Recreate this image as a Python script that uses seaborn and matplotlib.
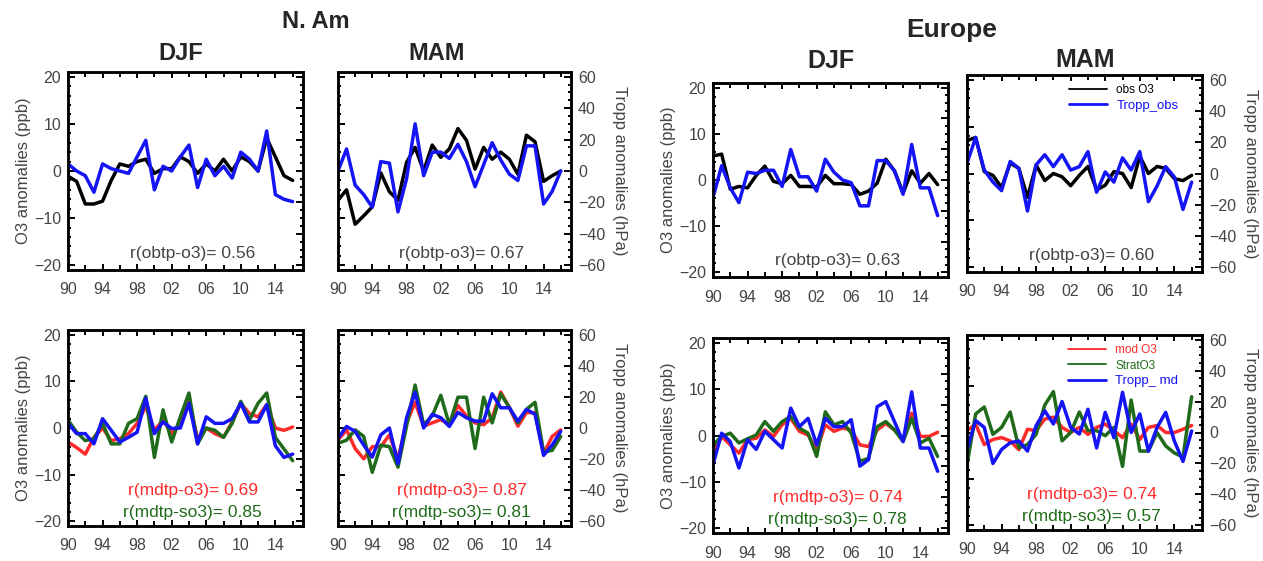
import numpy as np
import pandas as pd
import matplotlib
matplotlib.use("Agg")
import matplotlib.pyplot as plt
from matplotlib.ticker import MultipleLocator
import seaborn as sns

# Data, years 1990-2016
years = list(range(1990, 2017))
xtick_years = [1990, 1994, 1998, 2002, 2006, 2010, 2014]
xtick_labels = ['90', '94', '98', '02', '06', '10', '14']

# observed O3 (ppb) and observed tropopause pressure (hPa)
nam_djf_obs_o3 = [-1.1, -2.2, -7, -7, -6.4, -2, 1.5, 1, 2, 2.5, -0.5, 0.5, 0.5, 3, 2, -0.5, 1.5, 0, 2.5, 0, 3, 2, 0, 7, 3, -1, -2]
nam_djf_tropp_obs = [4.5, 0, -3, -13.5, 4.5, 1.5, 0, -1.5, 9, 19.5, -12, 3, 0, 9, 16.5, -10.5, 7.5, -3, 3, -4.5, 12, 7.5, 0, 25.5, -15, -18, -19.5]
nam_mam_obs_o3 = [-6.2, -4, -11.3, -9.5, -7.6, -0.4, -4.4, -6.2, 1.8, 5, 0, 5.5, 2.9, 4.7, 9, 6.5, 0.4, 5, 2.5, 4, 2.5, -0.7, 7.6, 6.2, -2.2, -1, 0]
nam_mam_tropp_obs = [0, 14, -9, -15, -23, 6, 5, -26, -5, 30, -3, 12, 12, 8, 17, 6, -10, 4, 18, 7, -2, -6, 16, 16, -21, -13, 0]
eu_djf_obs_o3 = [5.2, 5.6, -2, -1.4, -1.7, 1, 3, -0.3, -0.8, 1, -1.4, -1.4, -1.5, 1, -0.8, -0.8, -1, -3.1, -2.4, -0.7, 4.5, 2, -2.8, 2, -0.7, 1.4, -1]
eu_djf_tropp_obs = [-11.4, 9.3, -5.1, -14.7, 5.1, 4.2, 6.3, 6.3, -4.2, 19.8, 2.1, 2.1, -7.2, 13.5, 5.1, 0, -1.8, -16.8, -16.8, 12.6, 12.6, 6, -9.3, 23.1, -5.1, -5.1, -23.1]
eu_mam_obs_o3 = [7, 7.7, 0.4, -0.4, -3, 2.2, 1.1, -5.1, 1.8, -1.5, 0, -0.7, -2.6, -0.4, 1.5, -3.5, -2.5, 0.4, 0, -3, 3.7, 0, 1.5, 1.1, -1.1, -1.5, -0.4]
eu_mam_tropp_obs = [6.6, 23, 2.2, -5.5, -11, 7.7, 3.3, -24, 5.5, 12, 4.4, 12, 2.2, 4.4, 14, -12, 1, -5.5, 10, 2.2, 14, -18, -8, 4.4, -2.2, -23, -5.5]

# modelled O3, strat O3 (ppb) and modelled tropopause pressure (hPa)
nam_djf_mod_o3 = [-3, -4.2, -5.6, -2, 0, -2.7, -2.3, -1.2, 1, 4.6, -0.5, 1.7, -1.2, 1, 5.7, -2.3, 0, -1.2, -2, 1.3, 5.3, 3.1, 2.4, 5, 0, -0.5, 0.2]
nam_djf_strat_o3 = [1.7, -0.9, -2.7, -2.3, 1, -3.4, -3.4, 1, 2, 6.8, -6.3, 3.9, -3, 2.4, 7.5, -3.4, 0, -0.5, -2, 1, 5.7, 1.7, 5.3, 7.5, -2, -4.5, -7]
nam_djf_tropp_md = [3, -3.6, -3.6, -10.2, 6, -1.5, -9, -6, -2.7, 19.2, -3.6, 3.9, -0.3, 0, 15.9, -10.2, 7.2, 3, 3, 6, 15.9, 3.9, 3.9, 15, -11.4, -18.9, -16.8]
nam_mam_mod_o3 = [-2.6, -0.4, -4.4, -6.6, -4, -4, -1.5, -6.6, 1.1, 5.5, 0.4, 1.1, 1.8, 0.7, 4.8, 2.6, 1.1, 0.7, 2.2, 7.7, 4.4, 0.4, 3.3, 3.3, -5.5, -1.8, -0.4]
nam_mam_strat_o3 = [-3.3, -2.6, -0.4, -1.8, -9.5, -3.7, -4, -8.4, 0.4, 9.2, 0.7, 2.6, 7, 0.7, 6.6, 6.6, -4.4, 6.6, 1.1, 7.3, 4.4, 1.1, 4, 5.5, -5.1, -4.8, -1.8]
nam_mam_tropp_md = [-6.6, 1, -2.2, -11, -18.7, -4.4, 0, -23, 6.6, 23, 0, 8.8, 6.6, 1, 10, 6.6, 4.4, 4.4, 22, 13, 13, 4.4, 12, 8.8, -17.6, -11, -2.2]
eu_djf_mod_o3 = [-4.1, -0.2, -2, -3.8, -0.9, -0.6, 1.2, -0.2, 2.3, 3.7, 0.9, 0.1, -3.1, 2.3, 0.9, 1.6, 1.2, -2, -2.4, 1.2, 2.6, 1.2, -0.9, 4.8, -0.2, -0.2, 0.7]
eu_djf_strat_o3 = [-2, -0.2, 0.5, -1.6, -0.7, 0.1, 3, 0.9, 3, 4.1, 1.6, 0.5, -4.5, 5.1, 2.3, 3, 0.5, -5.6, -4.9, 1.9, 3, 1.2, -1.3, 3.7, -1.6, -0.6, -4.5]
eu_djf_tropp_md = [-18.9, 1.5, -3.9, -21, -2.7, -9, 2.7, -2.7, -8.1, 17.7, 5.7, 11.1, -6, 11.1, 5.7, 5.7, 10.2, -19.8, -15.6, 18.6, 21.9, 9, -3.9, 28.2, -8.1, -8.1, -23.1]
eu_mam_mod_o3 = [0.4, 1.8, -2.6, -1.5, -1.1, -1.8, -3.7, 0.7, 0.4, 2.9, 3.3, 1.1, 0, 1.1, -0.4, 1.1, 1.8, 0.4, -1.1, 1.8, -1.5, 1.1, 1.5, 0, 0, 0.7, 1.5]
eu_mam_strat_o3 = [-7, 4, 5.5, -0.4, 1.1, 4.4, -3.3, -2.6, -0.4, 5.9, 8.8, -1.8, 0, 4.4, 0.4, 0.4, -0.7, 1.1, -7.3, 7, -4, -4, 0, -2.9, -4.4, -5.3, 7.7]
eu_mam_tropp_md = [-11, 7.7, 3.3, -20, -11, -6.6, -5.5, -12, 4.4, 14, 5.5, 20, 3.3, -1, 15, -10, 13, -3.3, 26, 0, 12, -12, 3.3, 13, -5.5, -18.7, 1]

# correlations shown in the panels
r_obs = {'nam_djf': '0.56', 'nam_mam': '0.67', 'eu_djf': '0.63', 'eu_mam': '0.60'}
r_mod_o3 = {'nam_djf': '0.69', 'nam_mam': '0.87', 'eu_djf': '0.74', 'eu_mam': '0.74'}
r_mod_so3 = {'nam_djf': '0.85', 'nam_mam': '0.81', 'eu_djf': '0.78', 'eu_mam': '0.57'}

BLACK = '#000000'
BLUE = '#1414f5'
RED = '#ff2a2a'
GREEN = '#1f6b1a'
TXT = '#444444'

sns.set_style("ticks")
plt.rcParams['font.family'] = ['Liberation Sans', 'DejaVu Sans']

W, H = 1263, 561
fig = plt.figure(figsize=(W / 100, H / 100), dpi=100)


def rect(x0, y0, x1, y1):
    # pixel box -> figure fraction
    return [x0 / W, 1 - y1 / H, (x1 - x0) / W, (y1 - y0) / H]


def panel(box, o3_lines, tropp, side, r_texts, legend=False):
    ax = fig.add_axes(rect(*box))
    for vals, col, lab in o3_lines:
        sns.lineplot(x=years, y=vals, ax=ax, color=col, lw=2.5, label=lab)
    ax2 = ax.twinx()
    sns.lineplot(x=years, y=tropp[0], ax=ax2, color=BLUE, lw=2.5, label=tropp[1])

    ax.set_xlim(1990, 2017.2)
    ax.set_ylim(-21, 21)
    ax2.set_ylim(-63, 63)
    ax.set_xticks(xtick_years)
    ax.set_xticklabels(xtick_labels)
    ax.xaxis.set_minor_locator(MultipleLocator(2))
    ax.yaxis.set_major_locator(MultipleLocator(10))
    ax.yaxis.set_minor_locator(MultipleLocator(2))
    ax2.yaxis.set_major_locator(MultipleLocator(20))
    ax2.yaxis.set_minor_locator(MultipleLocator(5))

    # small inward ticks on all four sides
    ax.tick_params(axis='x', which='both', direction='in', top=True, bottom=True,
                   width=1.4, color='black')
    ax.tick_params(axis='x', which='major', length=4.5, labelsize=11.5, labelcolor=TXT, pad=9)
    ax.tick_params(axis='x', which='minor', length=3.5)
    ax.tick_params(axis='y', which='both', direction='in', left=True, right=False,
                   width=1.4, color='black')
    ax.tick_params(axis='y', which='major', length=5, labelsize=11.5, labelcolor=TXT, pad=5)
    ax.tick_params(axis='y', which='minor', length=2.5)
    ax2.tick_params(axis='y', which='both', direction='in', right=True, left=False,
                    width=1.4, color='black')
    ax2.tick_params(axis='y', which='major', length=5, labelsize=11.5, labelcolor=TXT, pad=5)
    ax2.tick_params(axis='y', which='minor', length=2.5)
    for a in (ax, ax2):
        for s in a.spines.values():
            s.set_visible(True)
            s.set_linewidth(1.8)
            s.set_color('black')
        a.set_xlabel('')
        a.set_ylabel('')

    if side == 'left':
        ax.set_ylabel('O3 anomalies (ppb)', fontsize=12, color=TXT, labelpad=2)
        ax2.tick_params(axis='y', labelright=False)
    else:
        ax.tick_params(axis='y', labelleft=False)
        ax2.set_ylabel('Tropp anomalies (hPa)', fontsize=12, color=TXT,
                       rotation=270, labelpad=16)

    h1, l1 = ax.get_legend_handles_labels()
    h2, l2 = ax2.get_legend_handles_labels()
    if ax.get_legend():
        ax.get_legend().remove()
    if ax2.get_legend():
        ax2.get_legend().remove()
    if legend:
        leg = ax2.legend(h1 + h2, l1 + l2, loc='upper right', bbox_to_anchor=(0.93, 0.99),
                         frameon=False, fontsize=8.5, handlelength=3.2, labelcolor='linecolor',
                         borderaxespad=0.2, labelspacing=0.3)
        for i, ln in enumerate(leg.get_lines()):
            ln.set_linewidth(1.3 if i < len(h1) else 2.0)
        leg.get_texts()[-1].set_fontsize(9.5)

    if len(r_texts) == 1:
        ax.text(0.53, 0.085, r_texts[0][0], transform=ax.transAxes, ha='center',
                va='center', fontsize=12.5, color=r_texts[0][1])
    else:
        ax.text(0.53, 0.18, r_texts[0][0], transform=ax.transAxes, ha='center',
                va='center', fontsize=12.5, color=r_texts[0][1])
        ax.text(0.53, 0.07, r_texts[1][0], transform=ax.transAxes, ha='center',
                va='center', fontsize=12.5, color=r_texts[1][1])
    return ax


# top row: observations
panel((68, 72, 303, 270), [(nam_djf_obs_o3, BLACK, None)], (nam_djf_tropp_obs, None), 'left',
      [('r(obtp-o3)= ' + r_obs['nam_djf'], TXT)])
panel((338, 72, 571, 270), [(nam_mam_obs_o3, BLACK, None)], (nam_mam_tropp_obs, None), 'right',
      [('r(obtp-o3)= ' + r_obs['nam_mam'], TXT)])
panel((713, 83, 948, 277), [(eu_djf_obs_o3, BLACK, None)], (eu_djf_tropp_obs, None), 'left',
      [('r(obtp-o3)= ' + r_obs['eu_djf'], TXT)])
panel((967, 75, 1202, 272), [(eu_mam_obs_o3, BLACK, 'obs O3')], (eu_mam_tropp_obs, 'Tropp_obs'), 'right',
      [('r(obtp-o3)= ' + r_obs['eu_mam'], TXT)], legend=True)

# bottom row: model
panel((68, 330, 303, 526), [(nam_djf_mod_o3, RED, None), (nam_djf_strat_o3, GREEN, None)],
      (nam_djf_tropp_md, None), 'left',
      [('r(mdtp-o3)= ' + r_mod_o3['nam_djf'], RED), ('r(mdtp-so3)= ' + r_mod_so3['nam_djf'], GREEN)])
panel((338, 330, 571, 526), [(nam_mam_mod_o3, RED, None), (nam_mam_strat_o3, GREEN, None)],
      (nam_mam_tropp_md, None), 'right',
      [('r(mdtp-o3)= ' + r_mod_o3['nam_mam'], RED), ('r(mdtp-so3)= ' + r_mod_so3['nam_mam'], GREEN)])
panel((713, 338, 948, 533), [(eu_djf_mod_o3, RED, None), (eu_djf_strat_o3, GREEN, None)],
      (eu_djf_tropp_md, None), 'left',
      [('r(mdtp-o3)= ' + r_mod_o3['eu_djf'], RED), ('r(mdtp-so3)= ' + r_mod_so3['eu_djf'], GREEN)])
panel((967, 335, 1202, 530), [(eu_mam_mod_o3, RED, 'mod O3'), (eu_mam_strat_o3, GREEN, 'StratO3')],
      (eu_mam_tropp_md, 'Tropp_ md'), 'right',
      [('r(mdtp-o3)= ' + r_mod_o3['eu_mam'], RED), ('r(mdtp-so3)= ' + r_mod_so3['eu_mam'], GREEN)],
      legend=True)

# region and season titles
fig.text(316 / W, 1 - 22 / H, 'N. Am', ha='center', va='center', fontsize=17, fontweight='bold')
fig.text(952 / W, 1 - 30 / H, 'Europe', ha='center', va='center', fontsize=19, fontweight='bold')
fig.text(181 / W, 1 - 54 / H, 'DJF', ha='center', va='center', fontsize=17, fontweight='bold')
fig.text(437 / W, 1 - 54 / H, 'MAM', ha='center', va='center', fontsize=17, fontweight='bold')
fig.text(831 / W, 1 - 61 / H, 'DJF', ha='center', va='center', fontsize=18, fontweight='bold')
fig.text(1085 / W, 1 - 60 / H, 'MAM', ha='center', va='center', fontsize=18, fontweight='bold')

fig.savefig('out.png', dpi=100)
